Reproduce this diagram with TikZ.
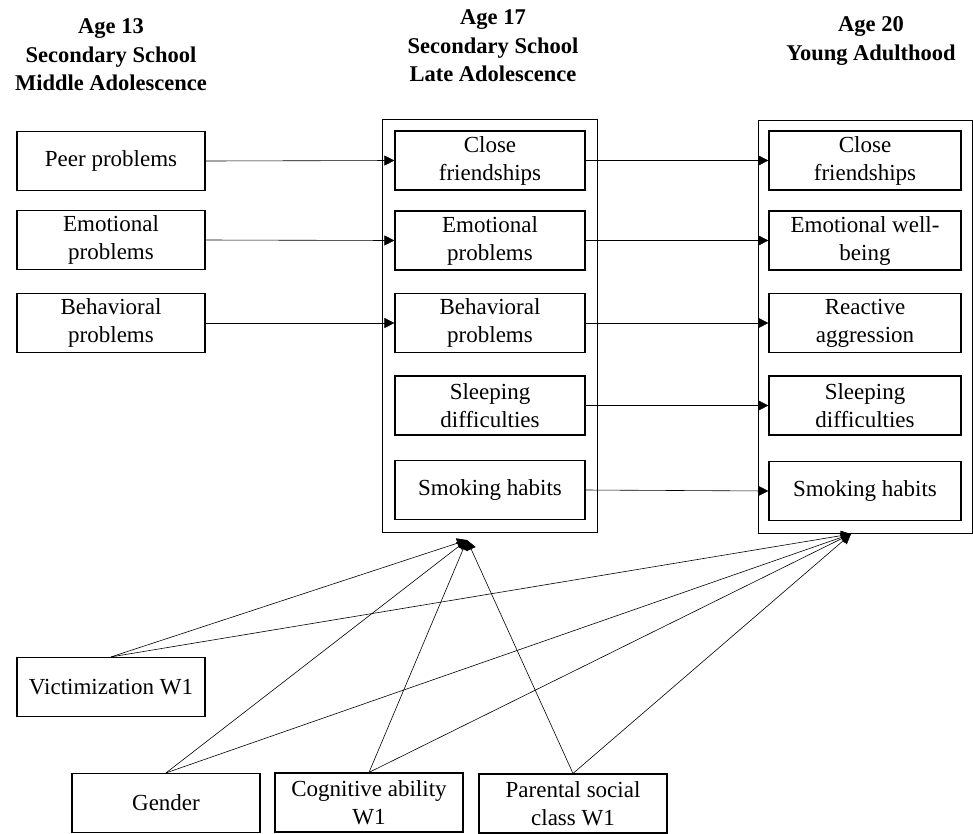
\documentclass[tikz,border=0pt]{standalone}
\usepackage{fontspec}
\setmainfont{Liberation Serif}
\usetikzlibrary{arrows.meta}
\begin{document}
\begin{tikzpicture}[x=1pt,y=-1pt,
  box/.style={draw,line width=1.2pt,minimum width=188pt,minimum height=59pt,align=center,inner sep=2pt,font=\fontsize{23}{28}\selectfont},
  grp/.style={draw,line width=0.8pt},
  hdr/.style={align=center,font=\fontsize{22.5}{28.5}\selectfont\bfseries},
  arr/.style={-{Triangle[length=10pt,width=10pt]},line width=0.6pt},
  ln/.style={line width=0.6pt}]
\useasboundingbox (0,0) rectangle (973,833);
% headers
\node[hdr] (h1) at (111,55) {Age 13\\Secondary School\\Middle Adolescence};
\node[hdr] (h2) at (493,46) {Age 17\\Secondary School\\Late Adolescence};
\node[hdr] (h3) at (871,41) {Age 20\\Young Adulthood};
% containers
\node[grp,minimum width=215pt,minimum height=413pt,inner sep=0pt] (g2) at (489.5,325.5) {};
\node[grp,minimum width=214pt,minimum height=413pt,inner sep=0pt] (g3) at (865,326.5) {};
% left
\node[box] (l1) at (111,161) {Peer problems};
\node[box] (l2) at (111,240) {Emotional\\problems};
\node[box] (l3) at (111,323) {Behavioral\\problems};
% middle
\node[box,minimum width=190pt] (m1) at (490,160.5) {Close\\friendships};
\node[box,minimum width=190pt] (m2) at (490,240.5) {Emotional\\problems};
\node[box,minimum width=190pt] (m3) at (490,323) {Behavioral\\problems};
\node[box,minimum width=190pt] (m4) at (490,405.5) {Sleeping\\difficulties};
\node[box,minimum width=190pt] (m5) at (490,490) {Smoking habits};
% right
\node[box,minimum width=192pt] (r1) at (865,160.5) {Close\\friendships};
\node[box,minimum width=192pt] (r2) at (865,240.5) {Emotional well-\\being};
\node[box,minimum width=192pt] (r3) at (865,323) {Reactive\\aggression};
\node[box,minimum width=192pt] (r4) at (865,405.5) {Sleeping\\difficulties};
\node[box,minimum width=192pt] (r5) at (865,491) {Smoking habits};
% bottom
\node[box] (v) at (111,687) {Victimization W1};
\node[box] (b1) at (166,803) {Gender};
\node[box] (b2) at (369,802.5) {Cognitive ability\\W1};
\node[box] (b3) at (573,803.5) {Parental social\\class W1};
% horizontal arrows
\draw[arr] (l1.east) -- (m1.west);
\draw[arr] (l2.east) -- (m2.west);
\draw[arr] (l3.east) -- (m3.west);
\draw[arr] (m1.east) -- (r1.west);
\draw[arr] (m2.east) -- (r2.west);
\draw[arr] (m3.east) -- (r3.west);
\draw[arr] (m4.east) -- (r4.west);
\draw[arr] (m5.east) -- (r5.west);
% convergence points
\coordinate (A) at (467,540);
\coordinate (B) at (851,534);
\foreach \n in {v,b1,b2,b3}{
  \draw[arr] (\n.north) -- (A);
  \draw[arr] (\n.north) -- (B);
}
\end{tikzpicture}
\end{document}
